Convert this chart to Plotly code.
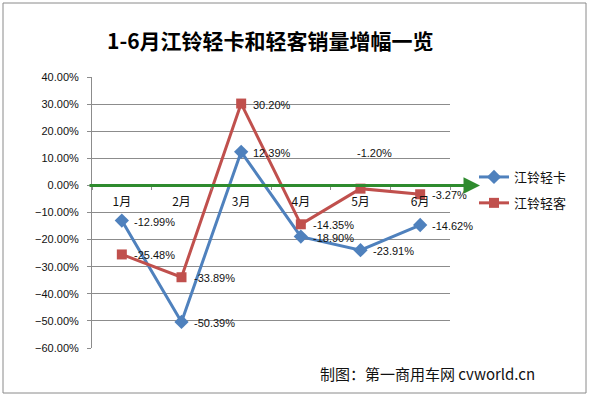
import plotly.graph_objects as go

categories = ["1月", "2月", "3月", "4月", "5月", "6月"]
truck_name = "江铃轻卡"
truck_vals = [-12.99, -50.39, 12.39, -18.90, -23.91, -14.62]
van_name = "江铃轻客"
van_vals = [-25.48, -33.89, 30.20, -14.35, -1.20, -3.27]
y_ticks = [40, 30, 20, 10, 0, -10, -20, -30, -40, -50, -60]

BLUE = "#4F81BD"
RED = "#C0504D"
GREEN = "#2E8B2E"
GRID = "#8C8C8C"
NUM_FONT = "Liberation Sans, Arial, sans-serif"
CJK_FONT = "Noto Sans CJK SC, sans-serif"

fig = go.Figure()
fig.add_trace(go.Scatter(
    x=categories, y=[v / 100 for v in truck_vals], name=truck_name,
    mode="lines+markers", line=dict(color=BLUE, width=3),
    marker=dict(symbol="diamond", size=11, color=BLUE),
    legendgroup="a"))
fig.add_trace(go.Scatter(
    x=categories, y=[v / 100 for v in van_vals], name=van_name,
    mode="lines+markers", line=dict(color=RED, width=3),
    marker=dict(symbol="square", size=10, color=RED),
    legendgroup="b"))

annotations = []
for series_idx, vals in enumerate([truck_vals, van_vals]):
    for c, v in zip(categories, vals):
        special = (series_idx == 1 and c == "5月")
        annotations.append(dict(
            x=c, y=v / 100, xref="x", yref="y", text=f"{v:.2f}%",
            showarrow=False,
            xanchor="center" if special else "left",
            xshift=14 if special else 10,
            yshift=36 if special else -1,
            font=dict(family=NUM_FONT, size=11, color="#111111")))

# zero axis arrow (green)
annotations.append(dict(
    x=(480 - 92) / 358, y=0, xref="paper", yref="y",
    ax=-(480 - 88), ay=0, axref="pixel", ayref="pixel",
    showarrow=True, arrowhead=2, arrowsize=1.1, arrowwidth=3,
    arrowcolor=GREEN, text=""))

# title
annotations.append(dict(
    x=(270 - 92) / 358, y=(348 - 40) / 271, xref="paper", yref="paper",
    text="<b>1-6月江铃轻卡和轻客销量增幅一览</b>", showarrow=False,
    xanchor="center", yanchor="middle",
    font=dict(family=CJK_FONT, size=21, color="#000000")))

# source note
annotations.append(dict(
    x=(427 - 92) / 358, y=(348 - 373) / 271, xref="paper", yref="paper",
    text="制图：第一商用车网 cvworld.cn", showarrow=False,
    xanchor="center", yanchor="middle",
    font=dict(family=CJK_FONT, size=15, color="#111111")))

fig.update_layout(
    width=590, height=397,
    margin=dict(l=92, r=140, t=77, b=49),
    paper_bgcolor="white", plot_bgcolor="white",
    showlegend=True,
    legend=dict(x=(474 - 92) / 358, y=(348 - 190) / 271,
                xanchor="left", yanchor="middle",
                font=dict(family=CJK_FONT, size=13, color="#111111"),
                tracegroupgap=6, bgcolor="rgba(0,0,0,0)"),
    annotations=annotations,
    shapes=[dict(type="rect", xref="paper", yref="paper",
                 x0=(3 - 92) / 358, x1=(586 - 92) / 358,
                 y0=(348 - 393) / 271, y1=(348 - 3) / 271,
                 line=dict(color="#8A8A8A", width=1), layer="below")],
)

fig.update_xaxes(
    type="category", range=[-0.5, 5.5], anchor="free", position=0.6,
    showgrid=False, zeroline=False, showline=False,
    tickson="boundaries", ticks="outside", ticklen=4, tickcolor=GRID,
    ticklabelstandoff=8,
    tickfont=dict(family=CJK_FONT, size=12, color="#111111"))
fig.update_yaxes(
    range=[-0.6, 0.4], tickvals=[t / 100 for t in y_ticks],
    tickformat=".2%", showgrid=True, gridcolor=GRID, gridwidth=1,
    zeroline=False, showline=True, linecolor=GRID, linewidth=1,
    ticks="outside", ticklen=4, tickcolor=GRID,
    ticklabelstandoff=6,
    tickfont=dict(family=NUM_FONT, size=11, color="#111111"))

fig.write_html("out.html",
               config={"displayModeBar": False},
               post_script="document.body.style.margin='0';document.body.style.overflow='hidden';")
